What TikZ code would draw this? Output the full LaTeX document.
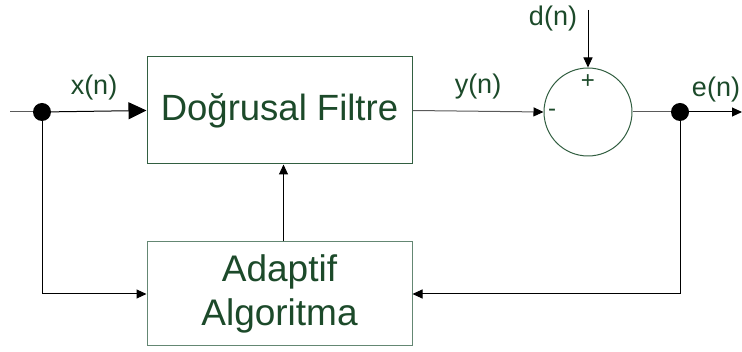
\documentclass[tikz,border=0pt]{standalone}
\usepackage{fontspec}
\setmainfont{Liberation Sans}
\usetikzlibrary{arrows.meta}
\definecolor{txtgreen}{RGB}{28,74,42}
\definecolor{boxgreen}{RGB}{50,95,65}
\definecolor{boxgreen2}{RGB}{100,135,115}
\definecolor{wiregray}{RGB}{90,90,90}
\tikzset{
  blockbox/.style={draw=boxgreen, line width=1pt, fill=white, text=txtgreen, inner sep=0pt, align=center},
  sumcirc/.style={circle, draw=boxgreen, line width=1pt, inner sep=0pt, minimum size=88pt},
  jdot/.style={circle, fill=black, inner sep=0pt, minimum size=18pt},
  lbl/.style={text=txtgreen, inner sep=0pt, font=\fontsize{27}{32}\selectfont},
  sgn/.style={text=txtgreen, inner sep=0pt, font=\fontsize{24}{28}\selectfont},
  wire/.style={draw=black, line width=1pt},
  gwire/.style={draw=wiregray, line width=1pt},
  bigtip/.style={-{Triangle[length=18pt,width=17pt,color=black]}},
  smalltip/.style={-{Triangle[length=10pt,width=9pt,color=black]}}
}
\begin{document}
\begin{tikzpicture}[x=1pt,y=-1pt]
\useasboundingbox (0,0) rectangle (742,352);
\fill[white] (0,0) rectangle (742,352);
\node[blockbox, minimum width=265pt, minimum height=107pt, font=\fontsize{36.5}{42}\selectfont] (filt) at (279.5,110.5) {Doğrusal Filtre};
\node[blockbox, draw=boxgreen2, minimum width=265pt, minimum height=104pt, font=\fontsize{37}{44}\selectfont] (alg) at (279.5,294) {Adaptif\\Algoritma};
\node[sumcirc] (sum) at (588,112) {};
\node[jdot] (d1) at (42,112) {};
\node[jdot] (d2) at (680,112) {};
\coordinate (in) at (10,112);
\coordinate (out) at (742,112);
\coordinate (dtop) at (588,10);
\node[lbl] (xl) at (94,88) {x(n)};
\node[lbl] (yl) at (478,87) {y(n)};
\node[lbl] (dl) at (553,19) {d(n)};
\node[lbl] (el) at (716,90) {e(n)};
\node[sgn] (plus) at (588,82) {+};
\node[sgn] (minus) at (552,113) {-};
\draw[gwire] (in) -- (d1);
\draw[wire, bigtip] (d1) -- (filt.west);
\draw[gwire, smalltip] (filt.east) -- (sum.west);
\draw[wire, smalltip] (dtop) -- (sum.north);
\draw[gwire] (sum.east) -- (d2);
\draw[wire, smalltip] (d2) -- (out);
\draw[wire, smalltip] (d2) |- (alg.east);
\draw[wire, smalltip] (d1) |- (alg.west);
\draw[wire, smalltip] ([xshift=4pt]alg.north) -- ([xshift=4pt]filt.south);
\end{tikzpicture}
\end{document}
